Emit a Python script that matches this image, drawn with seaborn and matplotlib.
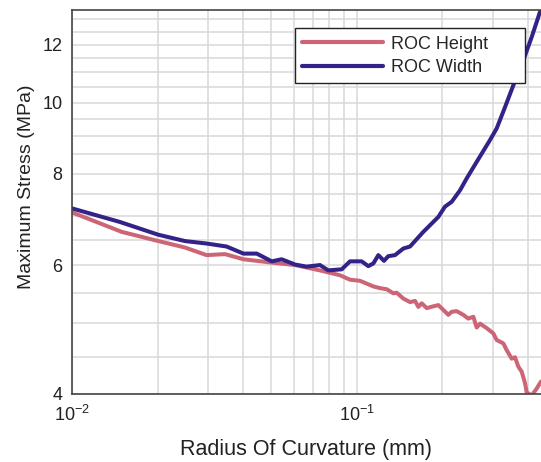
import numpy as np
import pandas as pd
import matplotlib
matplotlib.use("Agg")
import matplotlib.pyplot as plt
import seaborn as sns
from matplotlib.ticker import FixedLocator, FixedFormatter, NullFormatter, LogLocator

# ---- data ----
height_x = [0.0100, 0.01495, 0.0201, 0.02494, 0.0297, 0.03446, 0.0400, 0.0496, 0.0607, 0.0743,
            0.0874, 0.0947, 0.1027, 0.1144, 0.1207, 0.1275, 0.1345, 0.1382, 0.1458, 0.1539,
            0.1603, 0.1646, 0.1692, 0.1762, 0.1858, 0.1935, 0.2015, 0.2098, 0.2156, 0.2245,
            0.2368, 0.2466, 0.2568, 0.2639, 0.2711, 0.2862, 0.3019, 0.3102, 0.3273, 0.3365,
            0.3503, 0.3597, 0.3695, 0.3798, 0.3900, 0.3955, 0.4118, 0.4288, 0.4439]
height_y = [7.08, 6.66, 6.47, 6.34, 6.19, 6.21, 6.11, 6.05, 6.00, 5.90,
            5.81, 5.73, 5.71, 5.61, 5.58, 5.56, 5.49, 5.50, 5.40, 5.34,
            5.36, 5.26, 5.32, 5.24, 5.27, 5.29, 5.21, 5.13, 5.18, 5.19,
            5.13, 5.07, 5.10, 4.93, 4.99, 4.92, 4.84, 4.74, 4.69, 4.59,
            4.47, 4.49, 4.36, 4.29, 4.14, 4.02, 3.98, 4.07, 4.16]

width_x = [0.0100, 0.01474, 0.0201, 0.02494, 0.0297, 0.0349, 0.0400, 0.04455, 0.0503, 0.0545,
           0.0607, 0.0667, 0.0743, 0.0795, 0.0886, 0.0947, 0.1041, 0.1098, 0.1144, 0.1191,
           0.1247, 0.1291, 0.1363, 0.1458, 0.1539, 0.1714, 0.1935, 0.2042, 0.2156, 0.2306,
           0.2434, 0.2639, 0.2939, 0.3102, 0.3319, 0.3549, 0.3847, 0.4118, 0.4439]
width_y = [7.17, 6.87, 6.60, 6.47, 6.42, 6.36, 6.22, 6.22, 6.07, 6.11,
           6.01, 5.97, 6.00, 5.90, 5.92, 6.07, 6.07, 5.98, 6.03, 6.19,
           6.08, 6.17, 6.19, 6.32, 6.36, 6.66, 6.98, 7.21, 7.32, 7.59,
           7.88, 8.30, 8.89, 9.22, 9.86, 10.56, 11.42, 12.29, 13.43]

series_names = ["ROC Height", "ROC Width"]
series_colors = ["#CC6677", "#332288"]
y_ticks = [4, 6, 8, 10, 12]
y_minor = [4.5, 5, 5.5, 6.5, 7, 7.5, 8.5, 9, 9.5, 10.5, 11, 11.5, 12.5, 13]

df = pd.DataFrame({
    "radius": height_x + width_x,
    "stress": height_y + width_y,
    "series": [series_names[0]] * len(height_x) + [series_names[1]] * len(width_x),
})

sns.set_theme(style="white")
plt.rcParams["font.family"] = ["Liberation Sans", "DejaVu Sans"]
plt.rcParams["mathtext.fontset"] = "custom"
plt.rcParams["mathtext.rm"] = "Liberation Sans"
plt.rcParams["mathtext.it"] = "Liberation Sans"
plt.rcParams["mathtext.bf"] = "Liberation Sans"

fig = plt.figure(figsize=(5.41, 4.62), dpi=100)
ax = fig.add_axes([72 / 541, 1 - 394 / 462, 1 - 72 / 541, (394 - 9.5) / 462])

sns.lineplot(data=df, x="radius", y="stress", hue="series",
             palette=dict(zip(series_names, series_colors)),
             linewidth=2.9, estimator=None, ax=ax)

ax.set_xscale("log")
ax.set_yscale("log")
ax.set_xlim(0.01, 0.4439)
ax.set_ylim(4, 13.4)

ax.xaxis.set_major_locator(LogLocator(base=10))
ax.xaxis.set_minor_locator(LogLocator(base=10, subs=np.arange(2, 10)))
ax.xaxis.set_minor_formatter(NullFormatter())
ax.yaxis.set_major_locator(FixedLocator(y_ticks))
ax.yaxis.set_major_formatter(FixedFormatter([str(v) for v in y_ticks]))
ax.yaxis.set_minor_locator(FixedLocator(y_minor))
ax.yaxis.set_minor_formatter(NullFormatter())

ax.grid(True, which="both", color="#d9d9d9", linewidth=1.1)
ax.set_axisbelow(True)
ax.tick_params(axis="both", which="both", length=0, labelsize=13, colors="#222222")
ax.tick_params(axis="x", pad=8)
ax.tick_params(axis="y", pad=7)

for s in ["left", "bottom", "top"]:
    ax.spines[s].set_color("#444444")
    ax.spines[s].set_linewidth(1.2)
ax.spines["right"].set_visible(False)

ax.set_xlabel("Radius Of Curvature (mm)", fontsize=15.5, color="#222222", labelpad=10)
ax.set_ylabel("Maximum Stress (MPa)", fontsize=14, color="#222222")
ax.yaxis.set_label_coords(-0.079, 0.538)

leg = ax.legend(loc="upper left", bbox_to_anchor=(0.4755, 0.951, 0.4904, 0), mode="expand",
                borderaxespad=0, fontsize=13, handlelength=4.5, handletextpad=0.4,
                labelspacing=0.35, borderpad=0.4, fancybox=False, framealpha=1,
                edgecolor="#222222", title=None)
leg.get_frame().set_linewidth(1.0)
for line in leg.get_lines():
    line.set_linewidth(3.0)

fig.savefig("out.png", dpi=100)
